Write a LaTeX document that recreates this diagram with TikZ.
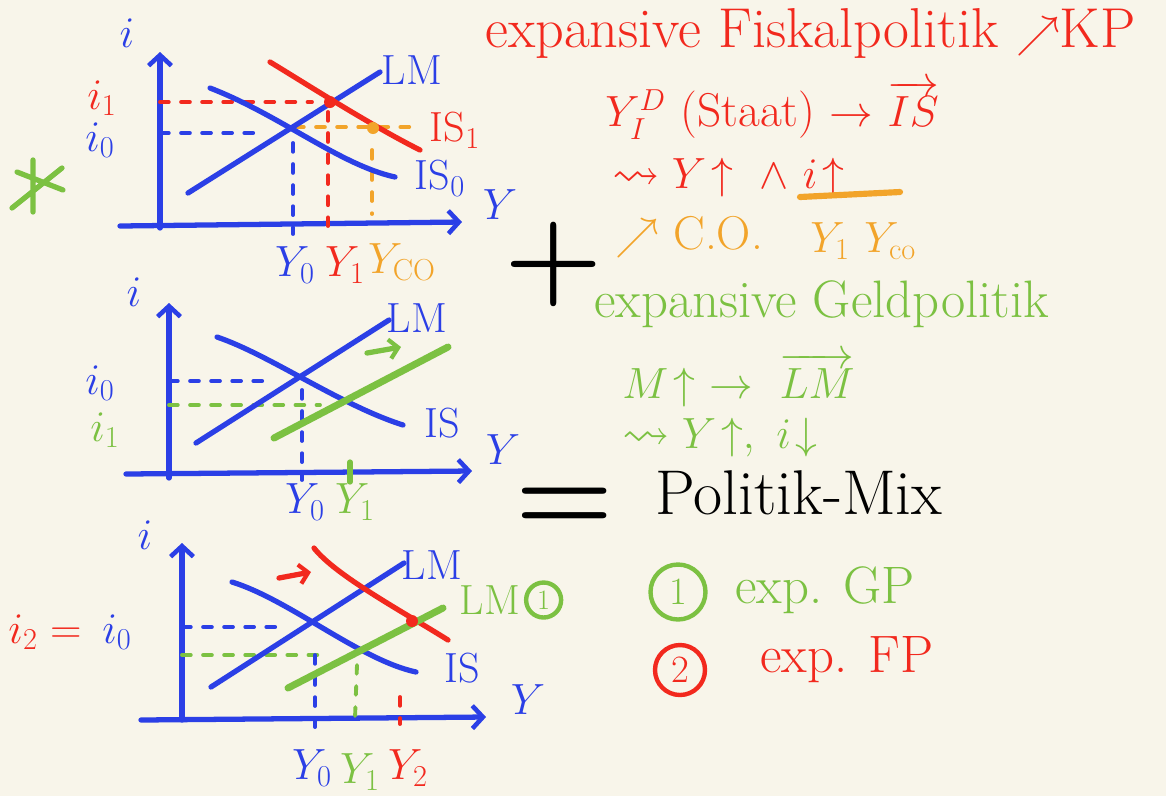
\documentclass[tikz,border=0pt]{standalone}
\usepackage{amsmath,amssymb}
\usepackage{xcolor}
\usepackage{tikz}
\usetikzlibrary{arrows.meta, positioning}
\definecolor{paper}{HTML}{F8F5EA}
\definecolor{pen}{HTML}{2B3FE6}
\definecolor{rot}{HTML}{F2291E}
\definecolor{orng}{HTML}{F2A42A}
\definecolor{gruen}{HTML}{7CC142}

\begin{document}
\begin{tikzpicture}[x=0.02cm, y=-0.02cm, line cap=round,
  ax/.style={line width=3pt, pen, -{Straight Barb[length=6pt, width=13pt, line width=2.6pt]}},
  cv/.style={line width=3pt},
  dl/.style={line width=2.2pt, dash pattern=on 5pt off 7pt},
  sh/.style={line width=3pt, -{Straight Barb[length=5pt, width=11pt, line width=2.4pt]}},
  lb/.style={inner sep=1pt, font=\fontsize{24}{26}\selectfont},
  tx/.style={anchor=west, inner sep=0pt, font=\fontsize{27}{30}\selectfont},
  nr/.style={circle, line width=2.5pt, minimum size=1.1cm, inner sep=0pt, font=\fontsize{22}{24}\selectfont}]
\fill[paper] (0,0) rectangle (1166,796);
\useasboundingbox (0,0) rectangle (1166,796);

% oben: expansive Fiskalpolitik
\draw[ax] (160,228) -- (160,52);
\draw[ax] (120,226) -- (462,222);
\draw[dl, pen] (160,133) -- (258,133);
\draw[dl, rot] (160,102) -- (312,102);
\draw[dl, rot] (328,112) -- (328,226);
\draw[dl, pen] (293,143) -- (293,234);
\draw[dl, orng] (295,127) -- (415,127);
\draw[dl, orng] (372,150) -- (372,214);
\draw[cv, pen] (188,193) -- (380,72);
\draw[cv, pen] (210,88) .. controls (280,115) and (340,165) .. (395,177);
\draw[cv, rot] (270,62) .. controls (300,80) and (370,125) .. (420,150);
\fill[rot] (330,102) circle (6);
\fill[orng] (373,128) circle (6);
\draw[cv, gruen] (12,208) -- (62,168) (17,172) -- (63,190) (33,160) -- (33,212);
\node[lb, pen] (i1) at (127,33) {$i$};
\node[lb, rot] (ieins1) at (102,98) {$i_1$};
\node[lb, pen] (inull1) at (100,140) {$i_0$};
\node[lb, pen] (lm1) at (412,70) {LM};
\node[lb, rot] (is11) at (455,130) {IS$_1$};
\node[lb, pen] (is01) at (440,178) {IS$_0$};
\node[lb, pen] (y1) at (500,205) {$Y$};
\node[lb, pen] (ynull1) at (295,265) {$Y_0$};
\node[lb, rot] (yeins1) at (345,265) {$Y_1$};
\node[lb, orng] (yco1) at (402,262) {$Y_{\mathrm{CO}}$};

% Mitte: expansive Geldpolitik
\draw[ax] (169,478) -- (169,303);
\draw[ax] (126,474) -- (472,471);
\draw[dl, pen] (169,381) -- (265,381);
\draw[dl, gruen] (169,405) -- (320,405);
\draw[dl, pen] (302,390) -- (302,480);
\draw[cv, gruen] (350,462) -- (350,482);
\draw[cv, pen] (196,443) -- (389,320);
\draw[cv, pen] (217,337) .. controls (270,355) and (340,405) .. (403,425);
\draw[gruen, line width=4pt] (274,438) -- (448,347);
\draw[sh, gruen] (367,353) -- (401,347);
\node[lb, pen] (i2) at (134,292) {$i$};
\node[lb, pen] (inull2) at (100,383) {$i_0$};
\node[lb, gruen] (ieins2) at (105,430) {$i_1$};
\node[lb, pen] (lm2) at (417,318) {LM};
\node[lb, pen] (is2) at (442,423) {IS};
\node[lb, pen] (y2) at (503,450) {$Y$};
\node[lb, pen] (ynull2) at (305,502) {$Y_0$};
\node[lb, gruen] (yeins2) at (355,502) {$Y_1$};

% unten: Politik-Mix
\draw[ax] (182,720) -- (182,543);
\draw[ax] (141,720) -- (486,717);
\draw[dl, pen] (182,627) -- (280,627);
\draw[dl, gruen] (182,655) -- (327,655);
\draw[dl, pen] (315,655) -- (315,730);
\draw[dl, gruen] (357,665) -- (355,718);
\draw[dl, rot] (400,697) -- (400,724);
\draw[cv, pen] (211,687) -- (404,563);
\draw[cv, pen] (232,582) .. controls (290,600) and (360,660) .. (416,672);
\draw[cv, rot] (314,548) .. controls (335,575) and (400,610) .. (448,640);
\draw[gruen, line width=4pt] (288,688) -- (443,608);
\fill[rot] (412,621) circle (6);
\draw[sh, rot] (279,578) -- (311,572);
\node[lb, pen] (i3) at (145,535) {$i$};
\node[lb, rot] (izwei3) at (45,632) {$i_2 =$};
\node[lb, pen] (inull3) at (117,632) {$i_0$};
\node[lb, pen] (lm3) at (432,565) {LM};
\node[lb, gruen] (lmeins3) at (490,600) {LM};
\node[nr, draw=gruen, text=gruen, minimum size=0.7cm, font=\fontsize{16}{18}\selectfont, right=1pt of lmeins3] (kreis3) {1};
\node[lb, pen] (is3) at (462,668) {IS};
\node[lb, pen] (y3) at (528,700) {$Y$};
\node[lb, pen] (ynull3) at (312,768) {$Y_0$};
\node[lb, gruen] (yeins3) at (360,772) {$Y_1$};
\node[lb, rot] (yzwei3) at (408,768) {$Y_2$};

% Text rechts
\node[tx, rot, font=\fontsize{32}{36}\selectfont] (fp) at (485,33) {expansive Fiskalpolitik $\nearrow$KP};
\node[tx, rot] (isv) at (605,110) {$Y^D_I$ (Staat) $\rightarrow$ $\overrightarrow{IS}$};
\node[tx, rot] (fpw) at (612,178) {$\leadsto Y\!\uparrow\ \wedge\ i\!\uparrow$};
\draw[orng, line width=3.5pt] (800,197) -- (900,192);
\node[tx, orng] (co) at (615,237) {$\nearrow$ C.O.};
\node[tx, orng] (yco) at (810,241) {$Y_1\ Y_{\mathrm{co}}$};
\node[inner sep=0pt, font=\fontsize{64}{64}\selectfont\bfseries] (plus) at (554,264) {+};
\node[tx, gruen, font=\fontsize{30}{34}\selectfont] (gp) at (594,304) {expansive Geldpolitik};
\node[tx, gruen] (lmv) at (622,380) {$M\!\uparrow\ \rightarrow\ \overrightarrow{LM}$};
\node[tx, gruen] (gpw) at (622,438) {$\leadsto Y\!\uparrow,\ i\!\downarrow$};
\node[inner sep=0pt, font=\fontsize{64}{64}\selectfont\bfseries] (gleich) at (565,510) {=};
\node[tx, font=\fontsize{36}{40}\selectfont] (mix) at (655,493) {Politik-Mix};
\node[nr, draw=gruen, text=gruen] (eins) at (678,592) {1};
\node[tx, gruen, font=\fontsize{30}{34}\selectfont] (egp) at (735,590) {exp. GP};
\node[nr, draw=rot, text=rot, minimum size=1cm] (zwei) at (680,670) {2};
\node[tx, rot, font=\fontsize{30}{34}\selectfont] (efp) at (760,660) {exp. FP};
\end{tikzpicture}
\end{document}
